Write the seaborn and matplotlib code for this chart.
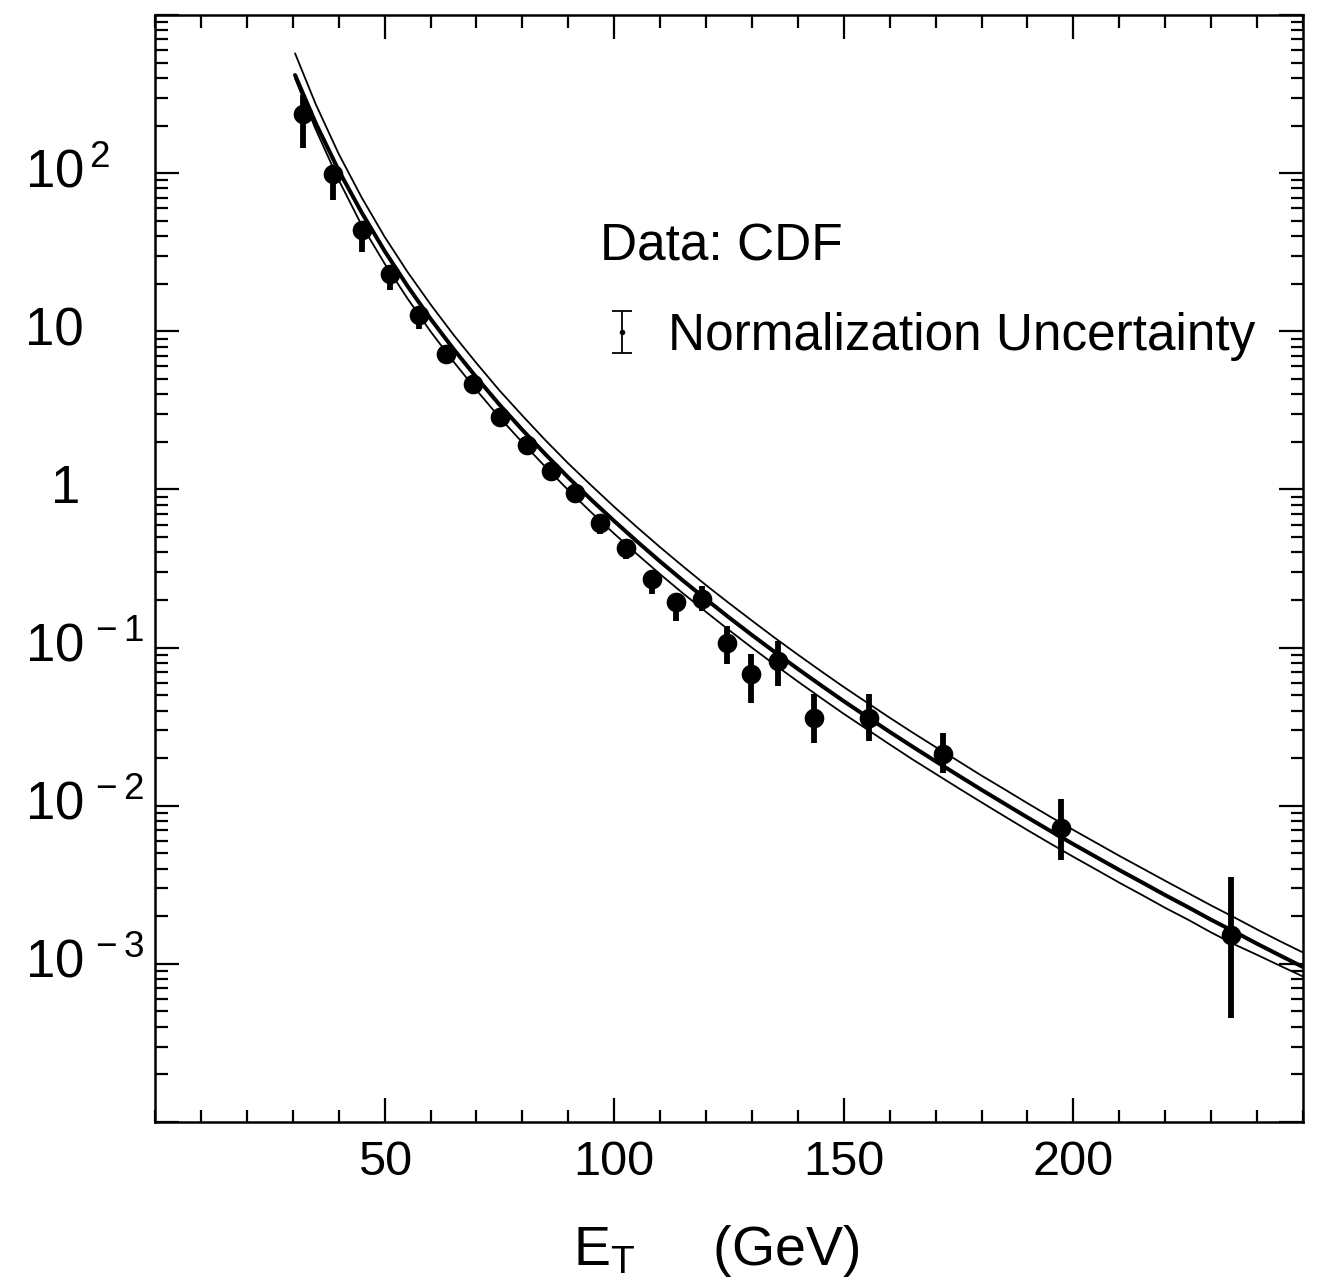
import numpy as np
import pandas as pd
import matplotlib
matplotlib.use("Agg")
import matplotlib.pyplot as plt
import matplotlib.ticker as mticker
import matplotlib.transforms as mtransforms
import seaborn as sns

# ---------------- data ----------------
et = [32.2, 38.7, 45.0, 51.1, 57.6, 63.3, 69.3, 75.2, 81.1, 86.3, 91.5, 97.0,
      102.6, 108.3, 113.5, 119.1, 124.6, 129.8, 135.7, 143.5, 155.4, 171.5,
      197.2, 234.3]
xsec = [235, 98.3, 43.6, 23.0, 12.7, 7.2, 4.66, 2.85, 1.92, 1.30, 0.944, 0.611,
        0.425, 0.271, 0.194, 0.202, 0.107, 0.0682, 0.0824, 0.0360, 0.0360,
        0.0213, 0.00718, 0.00152]
xsec_hi = [310, 112, 48.9, 25.5, 13.8, 7.7, 4.9, 3.0, 2.0, 1.36, 0.98, 0.64,
           0.44, 0.285, 0.205, 0.245, 0.137, 0.0912, 0.110, 0.0510, 0.0510,
           0.0290, 0.0111, 0.00352]
xsec_lo = [145, 67.4, 31.7, 18.2, 10.4, 6.4, 4.3, 2.65, 1.78, 1.2, 0.87, 0.520,
           0.362, 0.218, 0.147, 0.170, 0.0788, 0.0448, 0.0573, 0.0250, 0.0258,
           0.0160, 0.00451, 0.000455]

theory_et = [30.5, 35, 40, 45, 50, 55, 60, 65, 70, 75, 80, 85, 90, 95, 100,
             105, 110, 115, 120, 125, 130, 135, 140, 145, 150, 155, 160, 165,
             170, 175, 180, 185, 190, 195, 200, 205, 210, 215, 220, 225, 230,
             235, 240, 245, 250]
theory_mid = [417, 207, 104, 56.4, 32.2, 19.3, 12.0, 7.73, 5.11, 3.44, 2.38,
              1.67, 1.19, 0.861, 0.631, 0.468, 0.350, 0.265, 0.202, 0.155,
              0.120, 0.0935, 0.0733, 0.0578, 0.0458, 0.0366, 0.0293, 0.0236,
              0.0191, 0.0155, 0.0126, 0.0103, 0.00843, 0.00692, 0.00571,
              0.00473, 0.00392, 0.00327, 0.00272, 0.00228, 0.00190, 0.00160,
              0.00134, 0.00113, 0.000955]
theory_hi = [572, 273, 132.5, 70.2, 39.6, 23.7, 14.8, 9.51, 6.29, 4.23, 2.93,
             2.05, 1.46, 1.06, 0.776, 0.576, 0.431, 0.326, 0.248, 0.191, 0.148,
             0.115, 0.0902, 0.0711, 0.0563, 0.0450, 0.0360, 0.0290, 0.0235,
             0.0191, 0.0155, 0.0127, 0.01037, 0.00851, 0.00702, 0.00582,
             0.00482, 0.00402, 0.00335, 0.00280, 0.00234, 0.00197, 0.00165,
             0.00139, 0.00118]
theory_lo = [398, 189, 90.6, 46.9, 26.8, 16.1, 9.98, 6.43, 4.25, 2.86, 1.98,
             1.39, 0.990, 0.716, 0.525, 0.389, 0.291, 0.220, 0.168, 0.129,
             0.0998, 0.0778, 0.0610, 0.0481, 0.0381, 0.0305, 0.0244, 0.0196,
             0.0159, 0.0129, 0.0105, 0.00857, 0.00701, 0.00576, 0.00475,
             0.00394, 0.00326, 0.00272, 0.00226, 0.00190, 0.00158, 0.00133,
             0.00114, 0.000973, 0.000832]

xtick_vals = [50, 100, 150, 200]
ytick_vals = [1e2, 1e1, 1e0, 1e-1, 1e-2, 1e-3]
ytick_labels = [r"$10^{\,2}$", "10", "1", r"$10^{\,-1}$", r"$10^{\,-2}$",
                r"$10^{\,-3}$"]
xlabel_text = r"E$_{\mathrm{T}}$     (GeV)"
legend_title = "Data: CDF"
legend_norm = "Normalization Uncertainty"

# ---------------- style ----------------
sns.set_theme(style="ticks")
plt.rcParams['font.family'] = ['Liberation Sans', 'DejaVu Sans']
plt.rcParams['mathtext.fontset'] = 'custom'
plt.rcParams['mathtext.rm'] = 'Liberation Sans'
plt.rcParams['mathtext.it'] = 'Liberation Sans:italic'
plt.rcParams['mathtext.bf'] = 'Liberation Sans:bold'
plt.rcParams['axes.unicode_minus'] = True

fig = plt.figure(figsize=(13.23, 12.84), dpi=100)
fig.patch.set_facecolor('white')
ax = fig.add_axes([155 / 1323, 1 - 1122 / 1284, 1148 / 1323, 1107 / 1284])
ax.set_facecolor('white')

df_th = pd.DataFrame({"et": theory_et, "mid": theory_mid,
                      "hi": theory_hi, "lo": theory_lo})
sns.lineplot(data=df_th, x="et", y="hi", color="black", lw=1.3, ax=ax)
sns.lineplot(data=df_th, x="et", y="lo", color="black", lw=1.3, ax=ax)
sns.lineplot(data=df_th, x="et", y="mid", color="black", lw=2.9, ax=ax)

ax.vlines(et, xsec_lo, xsec_hi, color="black", lw=4.2, zorder=4)
sns.scatterplot(x=et, y=xsec, color="black", s=200, edgecolor="black",
                linewidth=0, zorder=5, ax=ax)

ax.set_yscale("log")
ax.set_xlim(0, 250)
ax.set_ylim(1e-4, 1e3)

ax.xaxis.set_major_locator(mticker.FixedLocator(xtick_vals))
ax.xaxis.set_minor_locator(mticker.MultipleLocator(10))
ax.yaxis.set_major_locator(mticker.LogLocator(base=10, numticks=20))
ax.yaxis.set_minor_locator(mticker.LogLocator(base=10, subs=np.arange(2, 10),
                                              numticks=20))
ax.yaxis.set_minor_formatter(mticker.NullFormatter())
ax.tick_params(which="both", direction="in", top=True, right=True,
               width=1.6, color="black")
ax.tick_params(which="major", length=17)
ax.tick_params(which="minor", length=9)
ax.tick_params(axis="x", labelsize=35, pad=13, labelcolor="black")
ax.tick_params(axis="y", labelleft=False)
for s in ax.spines.values():
    s.set_linewidth(1.8)
    s.set_color("black")
ax.set_xlabel("")
ax.set_ylabel("")

# y tick labels placed manually (left aligned as in the original)
trans = mtransforms.blended_transform_factory(ax.transAxes, ax.transData)
for v, lab in zip(ytick_vals, ytick_labels):
    if lab == "1":
        ax.text(-0.078, v, lab, transform=trans, ha="center", va="center",
                fontsize=38, color="black")
    else:
        ax.text(-0.1132, v, lab, transform=trans, ha="left", va="center",
                fontsize=38, color="black")

fig.text(0.541, 0.026, xlabel_text, ha="center", va="center", fontsize=40,
         color="black")

# legend block
ax.text(0.388, 0.790, legend_title, transform=ax.transAxes, fontsize=37,
        ha="left", va="center", color="black")
ax.errorbar([0.407], [0.714], yerr=[[0.019], [0.019]], transform=ax.transAxes,
            fmt="o", ms=3, color="black", ecolor="black", elinewidth=1.3,
            capsize=7, capthick=1.3)
ax.text(0.447, 0.710, legend_norm, transform=ax.transAxes, fontsize=37,
        ha="left", va="center", color="black")

fig.savefig("out.png", dpi=100, facecolor="white")
